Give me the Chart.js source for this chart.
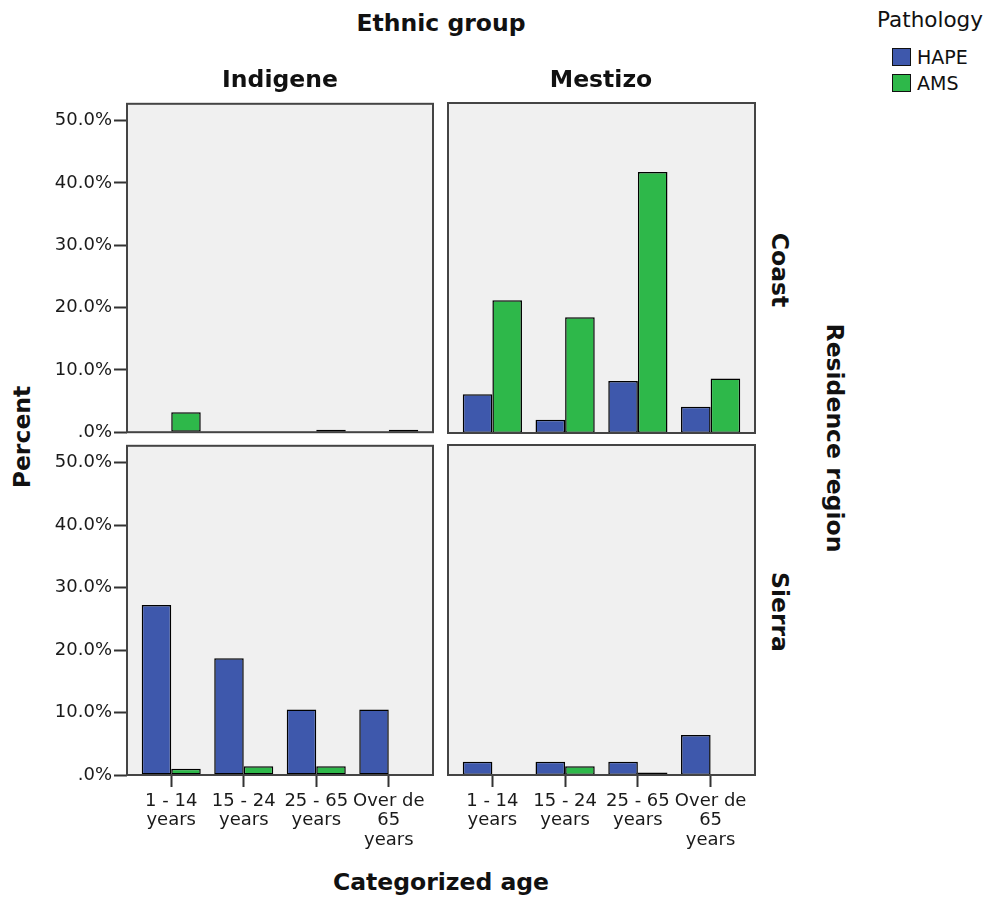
<!DOCTYPE html>
<html>
<head>
<meta charset="utf-8">
<script src="https://cdn.jsdelivr.net/npm/chart.js@4.4.1/dist/chart.umd.min.js"></script>
<style>
  html, body { margin: 0; padding: 0; background: #fff; }
  #page { position: relative; width: 991px; height: 901px; overflow: hidden; font-family: "DejaVu Sans", sans-serif; color: #111; }
  canvas { position: absolute; }
  .lbl { position: absolute; white-space: nowrap; line-height: 1; transform-origin: center center; }
  .bold { font-weight: bold; font-size: 23.5px; }
  .legend-box { position: absolute; width: 17px; height: 16px; border: 1px solid #111; }
  .legend-txt { position: absolute; font-size: 19px; line-height: 1; }
</style>
</head>
<body>
<div id="page">
  <canvas id="tl" width="390" height="354" style="left:47px;top:91px;width:390px;height:354px"></canvas>
  <canvas id="tr" width="315" height="354" style="left:444px;top:91px;width:315px;height:354px"></canvas>
  <canvas id="bl" width="390" height="422" style="left:47px;top:433px;width:390px;height:422px"></canvas>
  <canvas id="br" width="315" height="422" style="left:444px;top:433px;width:315px;height:422px"></canvas>

  <div class="lbl bold" style="left:441px;top:24px;transform:translate(-50%,-50%)">Ethnic group</div>
  <div class="lbl bold" style="left:280px;top:80px;transform:translate(-50%,-50%)">Indigene</div>
  <div class="lbl bold" style="left:601px;top:80px;transform:translate(-50%,-50%)">Mestizo</div>
  <div class="lbl bold" style="left:441px;top:883px;transform:translate(-50%,-50%)">Categorized age</div>
  <div class="lbl bold" style="left:23px;top:437px;transform:translate(-50%,-50%) rotate(-90deg)">Percent</div>
  <div class="lbl bold" style="left:779px;top:270px;transform:translate(-50%,-50%) rotate(90deg)">Coast</div>
  <div class="lbl bold" style="left:779px;top:612px;transform:translate(-50%,-50%) rotate(90deg)">Sierra</div>
  <div class="lbl bold" style="left:834px;top:438px;transform:translate(-50%,-50%) rotate(90deg)">Residence region</div>

  <div class="lbl" style="left:930px;top:20px;font-size:21.5px;transform:translate(-50%,-50%)">Pathology</div>
  <div class="legend-box" style="left:892px;top:48px;background:#3e58ac"></div>
  <div class="legend-txt" style="left:917px;top:48px">HAPE</div>
  <div class="legend-box" style="left:892px;top:74px;background:#2eb84a"></div>
  <div class="legend-txt" style="left:917px;top:74px">AMS</div>
</div>

<script>
// categories and tick labels
const ageLabels = [["1 - 14", "years"], ["15 - 24", "years"], ["25 - 65", "years"], ["Over de", "65", "years"]];
const ageIndex = [0, 1, 2, 3];
const percentTicks = [0, 10, 20, 30, 40, 50];
const pathologies = ["HAPE", "AMS"];

// percent values, one array per panel and pathology
const indigeneCoastHape = [0, 0, 0, 0];
const indigeneCoastAms = [3.2, 0, 0.4, 0.4];
const mestizoCoastHape = [6.2, 2.1, 8.3, 4.2];
const mestizoCoastAms = [21.2, 18.5, 41.7, 8.7];
const indigeneSierraHape = [27.2, 18.7, 10.5, 10.5];
const indigeneSierraAms = [1.0, 1.4, 1.4, 0];
const mestizoSierraHape = [2.1, 2.1, 2.1, 6.4];
const mestizoSierraAms = [0, 1.4, 0.4, 0];

const colors = ["#3e58ac", "#2eb84a"];

const panelFrame = {
  id: "panelFrame",
  beforeDraw(chart) {
    const a = chart.chartArea, c = chart.ctx;
    c.save();
    c.fillStyle = "#f0f0f0";
    c.fillRect(a.left, a.top, a.right - a.left, a.bottom - a.top);
    c.restore();
  },
  afterDatasetsDraw(chart) {
    const a = chart.chartArea, c = chart.ctx;
    c.save();
    c.strokeStyle = "#444";
    c.lineWidth = 2;
    c.strokeRect(a.left, a.top, a.right - a.left, a.bottom - a.top);
    c.restore();
  }
};

function makePanel(id, hape, ams, showY, showX) {
  const pts = v => v.map((y, i) => ({ x: ageIndex[i], y: y }));
  new Chart(document.getElementById(id), {
    type: "bar",
    data: {
      datasets: [
        { label: pathologies[0], data: pts(hape), backgroundColor: colors[0] },
        { label: pathologies[1], data: pts(ams), backgroundColor: colors[1] }
      ]
    },
    options: {
      responsive: false,
      maintainAspectRatio: false,
      animation: false,
      layout: { padding: { left: showY ? 0 : 4, right: 4, top: 12, bottom: showX ? 0 : 12 } },
      datasets: {
        bar: { categoryPercentage: 0.814, barPercentage: 1, borderColor: "#000", borderWidth: 1.5, borderSkipped: false }
      },
      plugins: { legend: { display: false }, tooltip: { enabled: false } },
      scales: {
        x: {
          type: "linear",
          display: showX,
          offset: false,
          min: -0.61,
          max: 3.61,
          afterBuildTicks: s => { s.ticks = ageIndex.map(v => ({ value: v })); },
          afterFit: s => { if (showX) s.height = 80; },
          grid: { offset: false, drawOnChartArea: false, drawTicks: true, tickLength: 12, tickWidth: 2, tickColor: "#333" },
          border: { display: false },
          ticks: {
            autoSkip: false, maxRotation: 0, padding: 4, color: "#1a1a1a",
            font: { family: "DejaVu Sans", size: 18, lineHeight: 1.1 },
            callback: v => ageLabels[v]
          }
        },
        y: {
          display: showY,
          min: 0,
          max: 52.7,
          afterBuildTicks: s => { s.ticks = percentTicks.map(v => ({ value: v })); },
          afterFit: s => { if (showY) s.width = 80; },
          grid: { drawOnChartArea: false, drawTicks: true, tickLength: 13, tickWidth: 2, tickColor: "#333" },
          border: { display: false },
          ticks: {
            padding: 2, color: "#1a1a1a",
            font: { family: "DejaVu Sans", size: 18 },
            callback: v => (v === 0 ? ".0%" : v.toFixed(1) + "%")
          }
        }
      }
    },
    plugins: [panelFrame]
  });
}

makePanel("tl", indigeneCoastHape, indigeneCoastAms, true, false);
makePanel("tr", mestizoCoastHape, mestizoCoastAms, false, false);
makePanel("bl", indigeneSierraHape, indigeneSierraAms, true, true);
makePanel("br", mestizoSierraHape, mestizoSierraAms, false, true);
</script>
</body>
</html>
